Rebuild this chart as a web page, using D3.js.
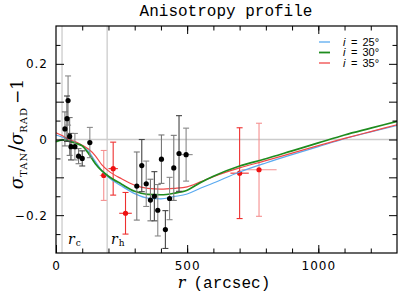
<!DOCTYPE html>
<html>
<head>
<meta charset="utf-8">
<script src="https://cdn.jsdelivr.net/npm/d3@7"></script>
<style>
  body { margin: 0; background: #fff; }
  svg { display: block; }
</style>
</head>
<body>
<script>
const W = 415, H = 300;

// model curves, sampled at rGrid (arcsec)
const rGrid = [0, 25, 50, 75, 100, 125, 150, 175, 200, 250, 300, 350, 400, 450, 500, 550, 600, 700, 800, 900, 1000, 1100, 1200, 1300];
const inc25 = [0.012, 0.006, -0.002, -0.008, -0.016, -0.032, -0.058, -0.082, -0.100, -0.123, -0.143, -0.155, -0.157, -0.151, -0.144, -0.129, -0.115, -0.086, -0.062, -0.040, -0.019, 0.002, 0.020, 0.037];
const inc30 = [-0.006, -0.001, -0.005, -0.010, -0.017, -0.038, -0.064, -0.083, -0.097, -0.118, -0.137, -0.145, -0.146, -0.142, -0.134, -0.114, -0.097, -0.070, -0.051, -0.030, -0.009, 0.012, 0.030, 0.048];
const inc35 = [0.018, 0.010, 0.000, -0.006, -0.015, -0.026, -0.043, -0.067, -0.083, -0.104, -0.121, -0.129, -0.131, -0.129, -0.125, -0.112, -0.098, -0.075, -0.056, -0.036, -0.016, 0.003, 0.021, 0.039];
const seriesLabels = ["= 25°", "= 30°", "= 35°"];
const seriesColors = ["#5aaaf0", "#1e8c1e", "#f04848"];

// black measurements
const blackR = [34, 42, 46, 52, 57, 72, 86, 100, 129, 308, 327, 344, 360, 375, 388, 402, 417, 433, 449, 469, 496];
const blackV = [0.028, 0.055, 0.103, 0.008, -0.019, -0.019, -0.044, -0.050, -0.008, -0.123, -0.069, -0.117, -0.160, -0.150, -0.187, -0.052, -0.238, -0.156, -0.075, -0.037, -0.040];
const blackErr = [0.045, 0.06, 0.065, 0.05, 0.035, 0.035, 0.02, 0.02, 0.04, 0.09, 0.069, 0.06, 0.055, 0.065, 0.068, 0.064, 0.05, 0.056, 0.086, 0.10, 0.07];
const blackXErr = [0, 0, 0, 0, 0, 0, 0, 0, 0, 0, 0, 0, 0, 0, 0, 0, 0, 0, 0, 0, 25];

// red measurements
const redR = [182, 218, 265, 700, 774];
const redV = [-0.095, -0.077, -0.195, -0.089, -0.080];
const redErr = [0.066, 0.07, 0.055, 0.12, 0.123];
const redXErr = [15, 18, 24, 35, 67];

// scale radii
const rc = 23, rh = 195;

const xTicksMajor = [0, 500, 1000];
const yTicksLabel = [-0.2, 0, 0.2];

const svg = d3.select("body").append("svg")
    .attr("width", W)
    .attr("height", H);

const x = d3.scaleLinear().domain([0, 1300]).range([56, 397]);
const y = d3.scaleLinear().domain([-0.3, 0.3]).range([253, 26]);

const plot = svg.append("g");

// reference lines
plot.selectAll("line.ref")
    .data([rc, rh])
    .enter().append("line")
    .attr("x1", d => x(d)).attr("x2", d => x(d))
    .attr("y1", y(0.3)).attr("y2", y(-0.3))
    .attr("stroke", "#cccccc").attr("stroke-width", 1.3);
plot.append("line")
    .attr("x1", x(0)).attr("x2", x(1300))
    .attr("y1", y(0)).attr("y2", y(0))
    .attr("stroke", "#cccccc").attr("stroke-width", 1.3);

function errorBars(g, rs, vs, errs, xerrs, colors) {
    const pts = rs.map((r, i) => ({r: r, v: vs[i], e: errs[i], xe: xerrs[i], c: colors[i % colors.length]}));
    const grp = g.append("g");
    grp.selectAll("line.v").data(pts).enter().append("line")
        .attr("x1", d => x(d.r)).attr("x2", d => x(d.r))
        .attr("y1", d => y(d.v + d.e)).attr("y2", d => y(d.v - d.e))
        .attr("stroke", d => d.c).attr("stroke-width", 1.1);
    [1, -1].forEach(s => {
        grp.selectAll("line.cap" + s).data(pts).enter().append("line")
            .attr("x1", d => x(d.r) - 3).attr("x2", d => x(d.r) + 3)
            .attr("y1", d => y(d.v + s * d.e)).attr("y2", d => y(d.v + s * d.e))
            .attr("stroke", d => d.c).attr("stroke-width", 1.1);
    });
    grp.selectAll("line.h").data(pts.filter(d => d.xe > 0)).enter().append("line")
        .attr("x1", d => x(d.r - d.xe)).attr("x2", d => x(d.r + d.xe))
        .attr("y1", d => y(d.v)).attr("y2", d => y(d.v))
        .attr("stroke", d => d.c).attr("stroke-width", 1.1);
    return pts;
}

// red data
const redPts = errorBars(plot, redR, redV, redErr, redXErr, ["#f59090", "#ee3030", "#ee3030", "#ee3030", "#f59090"]);
plot.selectAll("circle.red").data(redPts).enter().append("circle")
    .attr("cx", d => x(d.r)).attr("cy", d => y(d.v))
    .attr("r", 2.6).attr("fill", "#ee1111");

// model curves
const line = d3.line()
    .x((d, i) => x(rGrid[i]))
    .y(d => y(d))
    .curve(d3.curveMonotoneX);
[[inc25, 0], [inc35, 2], [inc30, 1]].forEach(([s, idx]) => {
    plot.append("path")
        .attr("d", line(s))
        .attr("fill", "none")
        .attr("stroke", seriesColors[idx])
        .attr("stroke-width", idx === 1 ? 1.7 : 1.2);
});

// black data
const blackPts = errorBars(plot, blackR, blackV, blackErr, blackXErr, ["#777777", "#444444", "#888888"]);
plot.selectAll("circle.blk").data(blackPts).enter().append("circle")
    .attr("cx", d => x(d.r)).attr("cy", d => y(d.v))
    .attr("r", 2.6).attr("fill", "#000");

// axes: ticks inward on all sides
const tickFont = "DejaVu Sans, sans-serif";
function styleAxis(g) {
    g.select(".domain").remove();
    g.selectAll(".tick line").attr("stroke", "#000").attr("stroke-width", 1);
    g.selectAll("text").attr("font-family", tickFont).attr("font-size", 12)
        .attr("letter-spacing", 1).attr("fill", "#000");
}

svg.append("g").attr("transform", "translate(0," + y(-0.3) + ")")
    .call(d3.axisBottom(x).tickValues(xTicksMajor).tickSize(-8).tickPadding(8).tickFormat(d3.format("d")))
    .call(styleAxis);
svg.append("g").attr("transform", "translate(0," + y(-0.3) + ")")
    .call(d3.axisBottom(x).tickValues(d3.range(100, 1300, 100)).tickSize(-4.5).tickFormat(""))
    .call(styleAxis);
svg.append("g").attr("transform", "translate(0," + y(0.3) + ")")
    .call(d3.axisTop(x).tickValues([500, 1000]).tickSize(-8).tickFormat(""))
    .call(styleAxis);
svg.append("g").attr("transform", "translate(0," + y(0.3) + ")")
    .call(d3.axisTop(x).tickValues(d3.range(100, 1300, 100)).tickSize(-4.5).tickFormat(""))
    .call(styleAxis);

svg.append("g").attr("transform", "translate(" + x(0) + ",0)")
    .call(d3.axisLeft(y).tickValues(yTicksLabel).tickSize(0).tickPadding(8)
        .tickFormat(d => d === 0 ? "0" : d3.format(".1f")(d)))
    .call(styleAxis);
[[x(0), d3.axisLeft], [x(1300), d3.axisRight]].forEach(([px, ax]) => {
    svg.append("g").attr("transform", "translate(" + px + ",0)")
        .call(ax(y).tickValues([-0.2, -0.1, 0, 0.1, 0.2]).tickSize(-8).tickFormat(""))
        .call(styleAxis);
    svg.append("g").attr("transform", "translate(" + px + ",0)")
        .call(ax(y).tickValues([-0.25, -0.15, -0.05, 0.05, 0.15, 0.25]).tickSize(-4.5).tickFormat(""))
        .call(styleAxis);
});

// frame
svg.append("rect")
    .attr("x", x(0)).attr("y", y(0.3))
    .attr("width", x(1300) - x(0)).attr("height", y(-0.3) - y(0.3))
    .attr("fill", "none").attr("stroke", "#000").attr("stroke-width", 1.2);

// r_c, r_h labels
[["c", 68], ["h", 111]].forEach(([sub, px]) => {
    const t = svg.append("text").attr("x", px).attr("y", 244)
        .attr("font-family", "DejaVu Serif, serif").attr("font-size", 14);
    t.append("tspan").attr("font-style", "italic").text("r");
    t.append("tspan").attr("font-size", 9).attr("dx", 1).attr("dy", 2).text(sub);
});

// legend
seriesLabels.forEach((lab, i) => {
    const ly = 42 + i * 10.5;
    svg.append("line")
        .attr("x1", 319).attr("x2", 330).attr("y1", ly).attr("y2", ly)
        .attr("stroke", seriesColors[i]).attr("stroke-width", i === 1 ? 1.8 : 1.3);
    svg.append("text").attr("x", 343).attr("y", ly + 3.5)
        .attr("font-family", "Liberation Sans, sans-serif").attr("font-size", 11)
        .attr("font-style", "italic").text("i");
    svg.append("text").attr("x", 351).attr("y", ly + 3.5)
        .attr("font-family", "Liberation Sans, sans-serif").attr("font-size", 11)
        .attr("word-spacing", 2).text(lab);
});

// title
svg.append("text")
    .attr("x", 226).attr("y", 16)
    .attr("text-anchor", "middle")
    .attr("font-family", "Liberation Mono, monospace").attr("font-size", 16)
    .text("Anisotropy profile");

// x label
const xl = svg.append("text").attr("x", 224).attr("y", 288)
    .attr("text-anchor", "middle").attr("font-size", 16);
xl.append("tspan").attr("font-family", "DejaVu Serif, serif").attr("font-style", "italic").text("r");
xl.append("tspan").attr("font-family", "Liberation Mono, monospace").attr("dx", 8).text("(arcsec)");

// y label
const yl = svg.append("text")
    .attr("transform", "translate(23,134) rotate(-90)")
    .attr("text-anchor", "middle")
    .attr("font-family", "DejaVu Serif, serif").attr("font-size", 18);
yl.append("tspan").attr("font-style", "italic").text("σ");
yl.append("tspan").attr("font-size", 10).attr("dy", 4).attr("letter-spacing", 1).text("TAN");
yl.append("tspan").attr("dy", -4).attr("font-size", 20).text("/");
yl.append("tspan").attr("font-style", "italic").text("σ");
yl.append("tspan").attr("font-size", 10).attr("dy", 4).attr("letter-spacing", 1).text("RAD");
yl.append("tspan").attr("dy", -4).attr("dx", 3).attr("font-size", 17).text("−1");
</script>
</body>
</html>
